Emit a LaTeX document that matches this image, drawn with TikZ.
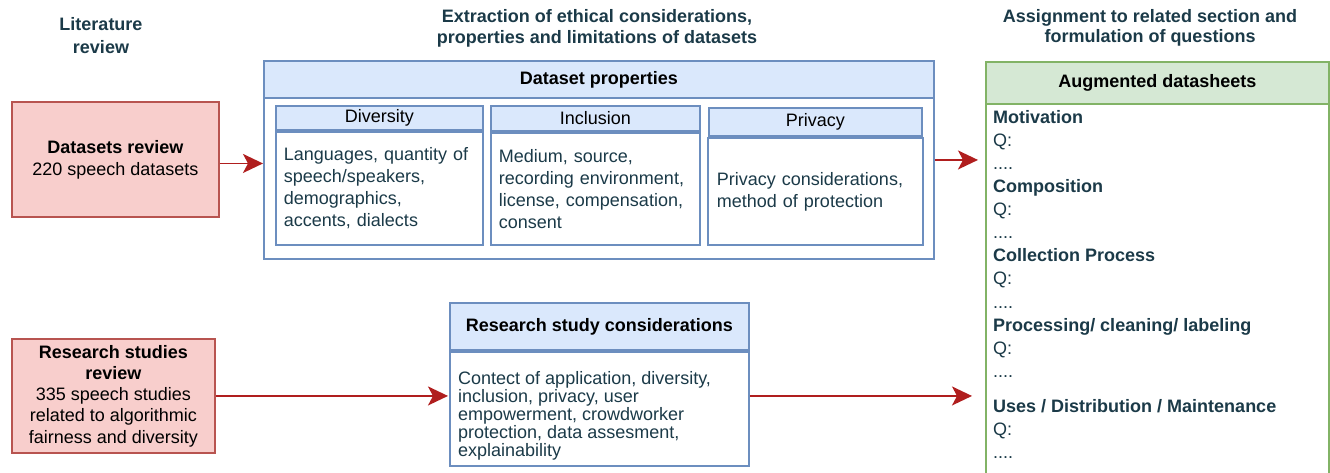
\documentclass[tikz,border=0pt]{standalone}
\usepackage{fontspec}
\setmainfont{Liberation Sans}
\usetikzlibrary{arrows.meta,positioning}

\definecolor{redfill}{HTML}{F8CECC}
\definecolor{redline}{HTML}{B85450}
\definecolor{bluefill}{HTML}{DAE8FC}
\definecolor{blueline}{HTML}{6C8EBF}
\definecolor{greenfill}{HTML}{D5E8D4}
\definecolor{greenline}{HTML}{82B366}
\definecolor{arrowred}{HTML}{B01E1E}
\definecolor{darktext}{HTML}{1B3A48}

\begin{document}
\begin{tikzpicture}[x=1pt,y=-1pt,font=\fontsize{18}{22}\selectfont]
\tikzstyle{coltitle} = [text=darktext, font=\fontsize{18}{21}\selectfont\bfseries, align=center]
\tikzstyle{review} = [rectangle, draw=redline, fill=redfill, line width=1.9pt,
anchor=north west, align=center, inner sep=0pt]
\tikzstyle{head} = [rectangle, draw=blueline, fill=bluefill, line width=1.9pt,
anchor=north west, inner sep=0pt]
\tikzstyle{body} = [rectangle, draw=blueline, fill=white, line width=1.9pt,
anchor=north west, inner xsep=8pt, text=darktext, align=left]
\tikzstyle{line} = [draw=arrowred, line width=1.7pt, -{Stealth[length=20pt,width=19pt,inset=5pt]}]
\useasboundingbox (0,0) rectangle (1330,472);

% column titles
\node [coltitle, font=\fontsize{18}{23}\selectfont\bfseries] (littitle) at (101,36) {Literature\\review};
\node [coltitle] (exttitle) at (597,28.5) {Extraction of ethical considerations,\\properties and limitations of datasets};
\node [coltitle, font=\fontsize{18}{19.5}\selectfont\bfseries] (asstitle) at (1150,28) {Assignment to related section and\\formulation of questions};

% reviews
\node [review, minimum width=207pt, minimum height=115pt] (dsreview) at (11,101)
{\textbf{Datasets review}\\220 speech datasets};
\node [review, minimum width=203pt, minimum height=114pt, font=\fontsize{18}{21.2}\selectfont] (rsreview) at (11,338)
{\textbf{Research studies}\\\textbf{review}\\335 speech studies\\related to algorithmic\\fairness and diversity};

% dataset properties
\node [body, minimum width=670pt, minimum height=198pt] (dsprop) at (263,60) {};
\node [head, minimum width=670pt, minimum height=37pt, font=\fontsize{18}{22}\selectfont\bfseries] (dsprophead) at (263,60) {Dataset properties};

\node [head, minimum width=207pt, minimum height=24pt] (divhead) at (275,105) {Diversity};
\node [body, minimum width=207pt, minimum height=113pt, text width=191pt, below=0pt of divhead] (divbody)
{Languages, quantity of\\speech/speakers,\\demographics,\\accents, dialects};

\node [head, minimum width=209pt, minimum height=25pt] (inchead) at (490,105) {Inclusion};
\node [body, minimum width=209pt, minimum height=112pt, text width=193pt, below=0pt of inchead] (incbody)
{Medium, source,\\recording environment,\\license, compensation,\\consent};

\node [head, minimum width=213pt, minimum height=28pt] (privhead) at (708,107) {Privacy};
\node [body, minimum width=213pt, minimum height=107pt, text width=197pt, inner xsep=9pt, below=0pt of privhead] (privbody)
{Privacy considerations,\\method of protection};

% research study considerations
\node [head, minimum width=299pt, minimum height=47pt, font=\fontsize{18}{22}\selectfont\bfseries] (rshead) at (449,302) {Research study considerations};
\node [body, minimum width=299pt, minimum height=114pt, below=0pt of rshead] (rsbody) {};
\node [text=darktext, align=left, anchor=west, inner sep=0pt, font=\fontsize{18}{18}\selectfont]
(rstext) at ([xshift=9pt,yshift=-7pt]rsbody.west)
{Contect of application, diversity,\\inclusion, privacy, user\\empowerment, crowdworker\\protection, data assesment,\\explainability};

% augmented datasheets
\node [body, draw=greenline, minimum width=343pt, minimum height=390pt] (sheets) at (985,103) {};
\node [head, draw=greenline, fill=greenfill, minimum width=343pt, minimum height=42pt, font=\fontsize{18}{22}\selectfont\bfseries] (sheetshead) at (985,61) {Augmented datasheets};
\node [text=darktext, align=left, anchor=north west, inner sep=0pt, font=\fontsize{18}{23.1}\selectfont] (sheetstext) at (993,110)
{\textbf{Motivation}\\Q:\\....\\\textbf{Composition}\\Q:\\....\\\textbf{Collection Process}\\Q:\\....\\
\textbf{Processing/ cleaning/ labeling}\\Q:\\....\\[12pt]\textbf{Uses / Distribution / Maintenance}\\Q:\\....};

\tikzstyle{every path}=[line]
\path ([yshift=-4pt]dsreview.east) -- ([yshift=-4pt]dsreview.east -| dsprop.west);
\path (dsprop.east) -- ([xshift=-7pt]dsprop.east -| sheets.west);
\path (rsreview) -- ([xshift=-1pt]rsreview -| rsbody.west);
\path (rsbody.east |- rsreview) -- ([xshift=-13pt]rsreview -| sheets.west);

\end{tikzpicture}
\end{document}
